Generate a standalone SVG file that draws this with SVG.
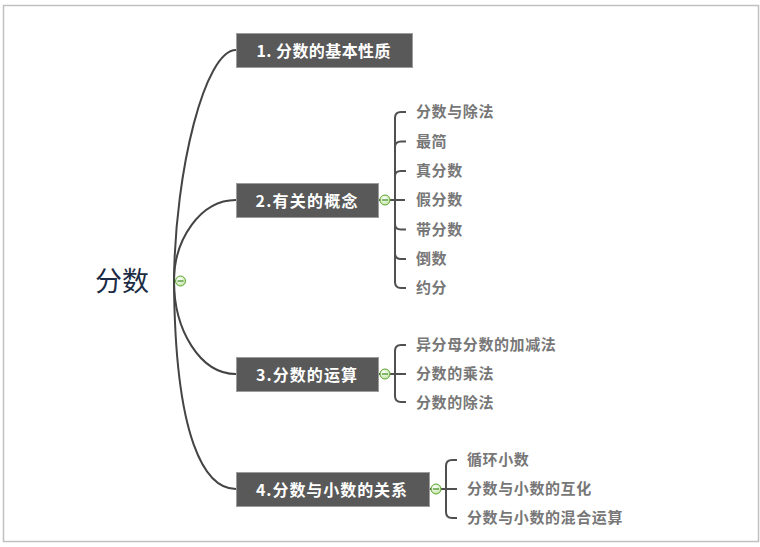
<svg xmlns="http://www.w3.org/2000/svg" width="760" height="547" viewBox="0 0 760 547">
<defs>
<radialGradient id="cg" cx="0.4" cy="0.35" r="0.7">
<stop offset="0" stop-color="#ffffff"/>
<stop offset="1" stop-color="#bfe3a0"/>
</radialGradient>
</defs>
<style>
.frame{fill:#fff;stroke:#c0c0c0;stroke-width:1.5}
.conn{fill:none;stroke:#444;stroke-width:2}
.br{fill:none;stroke:#505050;stroke-width:2}
.box{fill:#595959;stroke:#9c9c9c;stroke-width:1}
.bt{fill:#fff;font-family:"Noto Sans CJK SC","Liberation Sans",sans-serif;font-size:16px;font-weight:bold}
.ct{fill:#777;font-family:"Noto Sans CJK SC","Liberation Sans",sans-serif;font-size:15px;font-weight:bold;letter-spacing:0.6px}
.root{fill:#1c2b45;font-family:"Noto Sans CJK SC","Liberation Sans",sans-serif;font-size:27px}
.cc{fill:url(#cg);stroke:#5aa52c;stroke-width:1}
.cm{stroke:#3d8a1e;stroke-width:1.2}
</style>
<rect class="frame" x="3.5" y="5.5" width="755" height="536"/>

<g id="connectors">
<path class="conn" d="M174,281 C175,170 205,50 236,50"/>
<path class="conn" d="M174,281 C174,240 200,200 236,200"/>
<path class="conn" d="M174,281 C174,330 200,374 236,374"/>
<path class="conn" d="M174,281 C175,440 205,489 236,489"/>
<!-- node 2 brace -->
<path class="br" d="M378,200 L405,200"/>
<path class="br" d="M395,117 L395,283"/>
<path class="br" d="M395,118 Q395,112 401,112 L406,112"/>
<path class="br" d="M395,147 Q395,141.5 401,141.5 L406,141.5"/>
<path class="br" d="M395,176 Q395,171 401,171 L406,171"/>
<path class="br" d="M395,224 Q395,229.5 401,229.5 L406,229.5"/>
<path class="br" d="M395,253 Q395,259 401,259 L406,259"/>
<path class="br" d="M395,282 Q395,288 401,288 L406,288"/>
<!-- node 3 brace -->
<path class="br" d="M378,374 L406,374"/>
<path class="br" d="M395,350 L395,397"/>
<path class="br" d="M395,351 Q395,345 401,345 L406,345"/>
<path class="br" d="M395,396 Q395,402 401,402 L406,402"/>
<!-- node 4 brace -->
<path class="br" d="M429,489 L457,489"/>
<path class="br" d="M446,465 L446,512"/>
<path class="br" d="M446,466 Q446,460 452,460 L457,460"/>
<path class="br" d="M446,512 Q446,518 452,518 L457,518"/>
</g>

<g id="root">
<text class="root" x="95" y="291">分数</text>
<circle class="cc" cx="180.5" cy="281" r="5"/>
<line class="cm" x1="177.5" y1="281" x2="183.5" y2="281"/>
</g>

<g id="node1">
<rect class="box" x="236.5" y="33.5" width="176" height="34"/>
<text class="bt" x="256.5" y="56.5" font-size="17" textLength="134" lengthAdjust="spacing">1. 分数的基本性质</text>
</g>

<g id="node2">
<rect class="box" x="236.5" y="183.5" width="142" height="34"/>
<text class="bt" x="255.5" y="206.5" textLength="102" lengthAdjust="spacing">2.有关的概念</text>
<circle class="cc" cx="385" cy="200" r="5"/>
<line class="cm" x1="382" y1="200" x2="388" y2="200"/>
</g>
<g id="n2c1"><text class="ct" x="416" y="117">分数与除法</text></g>
<g id="n2c2"><text class="ct" x="416" y="146.5">最简</text></g>
<g id="n2c3"><text class="ct" x="416" y="176">真分数</text></g>
<g id="n2c4"><text class="ct" x="416" y="205">假分数</text></g>
<g id="n2c5"><text class="ct" x="416" y="234.5">带分数</text></g>
<g id="n2c6"><text class="ct" x="416" y="264">倒数</text></g>
<g id="n2c7"><text class="ct" x="416" y="293">约分</text></g>

<g id="node3">
<rect class="box" x="236.5" y="357.5" width="142" height="34"/>
<text class="bt" x="256" y="380.5" textLength="101" lengthAdjust="spacing">3.分数的运算</text>
<circle class="cc" cx="385" cy="374" r="5"/>
<line class="cm" x1="382" y1="374" x2="388" y2="374"/>
</g>
<g id="n3c1"><text class="ct" x="416" y="350">异分母分数的加减法</text></g>
<g id="n3c2"><text class="ct" x="416" y="379">分数的乘法</text></g>
<g id="n3c3"><text class="ct" x="416" y="408">分数的除法</text></g>

<g id="node4">
<rect class="box" x="236.5" y="472.5" width="193" height="34"/>
<text class="bt" x="256" y="495.5" textLength="151" lengthAdjust="spacing">4.分数与小数的关系</text>
<circle class="cc" cx="436" cy="489" r="5"/>
<line class="cm" x1="433" y1="489" x2="439" y2="489"/>
</g>
<g id="n4c1"><text class="ct" x="467" y="465">循环小数</text></g>
<g id="n4c2"><text class="ct" x="467" y="494">分数与小数的互化</text></g>
<g id="n4c3"><text class="ct" x="467" y="523">分数与小数的混合运算</text></g>
</svg>
